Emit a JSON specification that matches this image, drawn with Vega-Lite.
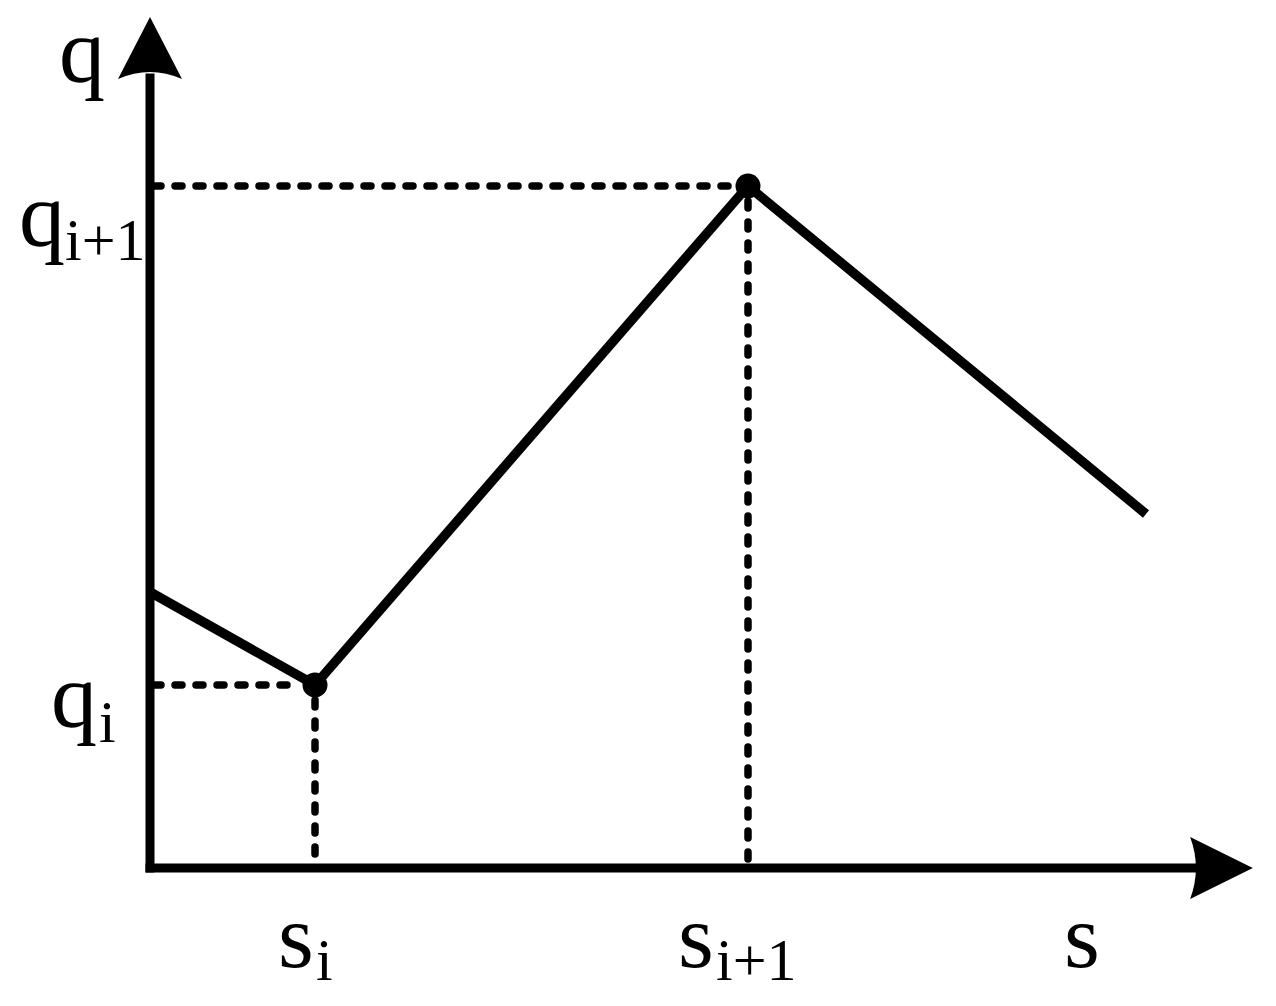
{
  "$schema": "https://vega.github.io/schema/vega-lite/v6.json",
  "width": 1276,
  "height": 1006,
  "autosize": {"type": "fit", "contains": "padding"},
  "padding": 0,
  "background": "white",
  "config": {"view": {"stroke": null}},
  "datasets": {
    "curve": [
      {"s": 0, "q": 276},
      {"s": 165, "q": 183},
      {"s": 598, "q": 682},
      {"s": 996, "q": 354}
    ],
    "knots": [
      {"s": 165, "q": 183, "name": "i"},
      {"s": 598, "q": 682, "name": "i+1"}
    ],
    "segments": [
      {"kind": "axis", "s": 0, "q": 0, "s2": 0, "q2": 790},
      {"kind": "axis", "s": 0, "q": 0, "s2": 1046, "q2": 0},
      {"kind": "guide", "s": 4, "q": 183, "s2": 150, "q2": 183},
      {"kind": "guide", "s": 165, "q": 168, "s2": 165, "q2": 6},
      {"kind": "guide", "s": 4, "q": 682, "s2": 582, "q2": 682},
      {"kind": "guide", "s": 598, "q": 667, "s2": 598, "q2": 6}
    ],
    "arrows": [
      {"dir": "up", "s": 0, "q": 820},
      {"dir": "right", "s": 1071.5, "q": 0}
    ],
    "labels": [
      {"kind": "main", "s": -91, "q": 786, "text": "q"},
      {"kind": "main", "s": -131, "q": 622, "text": "q"},
      {"kind": "sub", "s": -85, "q": 608, "text": "i+1"},
      {"kind": "main", "s": -99, "q": 141, "text": "q"},
      {"kind": "sub", "s": -51, "q": 126, "text": "i"},
      {"kind": "main", "s": 128, "q": -99, "text": "s"},
      {"kind": "sub", "s": 166, "q": -112, "text": "i"},
      {"kind": "main", "s": 528, "q": -99, "text": "s"},
      {"kind": "sub", "s": 566, "q": -112, "text": "i+1"},
      {"kind": "main", "s": 914, "q": -99, "text": "s"}
    ]
  },
  "encoding": {
    "x": {"field": "s", "type": "quantitative", "axis": null, "scale": {"domain": [-150, 1126], "nice": false, "zero": false}},
    "y": {"field": "q", "type": "quantitative", "axis": null, "scale": {"domain": [-138, 868], "nice": false, "zero": false}}
  },
  "layer": [
    {
      "data": {"name": "segments"},
      "transform": [{"filter": "datum.kind === 'guide'"}],
      "mark": {"type": "rule", "color": "black", "strokeWidth": 7.5, "strokeDash": [7, 14], "strokeCap": "round"},
      "encoding": {
        "x2": {"field": "s2"},
        "y2": {"field": "q2"}
      }
    },
    {
      "data": {"name": "segments"},
      "transform": [{"filter": "datum.kind === 'axis'"}],
      "mark": {"type": "rule", "color": "black", "strokeWidth": 9, "strokeCap": "square"},
      "encoding": {
        "x2": {"field": "s2"},
        "y2": {"field": "q2"}
      }
    },
    {
      "data": {"name": "curve"},
      "mark": {"type": "line", "color": "black", "strokeWidth": 9.5, "strokeJoin": "miter", "strokeCap": "butt"},
      "encoding": {}
    },
    {
      "data": {"name": "knots"},
      "mark": {"type": "point", "shape": "circle", "filled": true, "color": "black", "opacity": 1, "size": 625}
    },
    {
      "data": {"name": "arrows"},
      "transform": [{"filter": "datum.dir === 'up'"}],
      "mark": {"type": "point", "filled": true, "color": "black", "opacity": 1, "size": 4096, "shape": "M0,-0.97 L1,0.97 Q0,0.53 -1,0.97 Z"}
    },
    {
      "data": {"name": "arrows"},
      "transform": [{"filter": "datum.dir === 'right'"}],
      "mark": {"type": "point", "filled": true, "color": "black", "opacity": 1, "size": 4096, "shape": "M0.98,0 L-0.98,-0.97 Q-0.62,0 -0.98,0.97 Z"}
    },
    {
      "data": {"name": "labels"},
      "transform": [{"filter": "datum.kind === 'main'"}],
      "mark": {"type": "text", "font": "Liberation Serif", "fontSize": 92, "align": "left", "baseline": "alphabetic", "color": "black"},
      "encoding": {"text": {"field": "text"}}
    },
    {
      "data": {"name": "labels"},
      "transform": [{"filter": "datum.kind === 'sub'"}],
      "mark": {"type": "text", "font": "Liberation Serif", "fontSize": 60, "align": "left", "baseline": "alphabetic", "color": "black"},
      "encoding": {"text": {"field": "text"}}
    }
  ]
}
